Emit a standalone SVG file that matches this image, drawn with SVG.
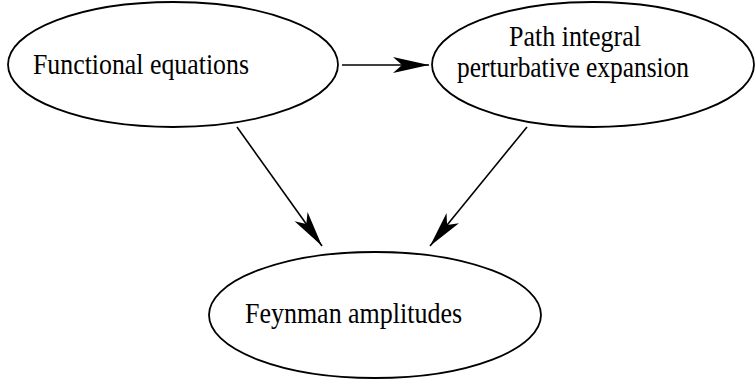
<svg xmlns="http://www.w3.org/2000/svg" width="755" height="383" viewBox="0 0 755 383">
<style>
.node ellipse{fill:#fff;stroke:#000;stroke-width:1.8}
.node text{font-family:"Liberation Serif","Times New Roman",serif;font-size:29px;fill:#000}
.edge{stroke:#000;stroke-width:1.6;fill:none;marker-end:url(#arr)}
</style>
<defs>
<marker id="arr" markerUnits="userSpaceOnUse" viewBox="-37 -9 38 18" refX="0" refY="0" markerWidth="38" markerHeight="18" orient="auto">
<path d="M0,0 L-36,-8 L-27,0 L-36,8 Z" fill="#000"/>
</marker>
</defs>
<g id="n1" class="node">
<ellipse cx="173" cy="64.5" rx="165" ry="62.5"/>
<text x="33" y="74" textLength="216" lengthAdjust="spacingAndGlyphs">Functional equations</text>
</g>
<g id="n2" class="node">
<ellipse cx="593" cy="64.5" rx="161" ry="62.5"/>
<text x="509" y="46" textLength="132" lengthAdjust="spacingAndGlyphs">Path integral</text>
<text x="457" y="77" textLength="232" lengthAdjust="spacingAndGlyphs">perturbative expansion</text>
</g>
<g id="n3" class="node">
<ellipse cx="375" cy="315" rx="166" ry="63"/>
<text x="245" y="323" textLength="217" lengthAdjust="spacingAndGlyphs">Feynman amplitudes</text>
</g>
<g id="edges">
<line class="edge" x1="342" y1="65" x2="429" y2="65"/>
<line class="edge" x1="237" y1="127" x2="322" y2="246"/>
<line class="edge" x1="527" y1="127" x2="430" y2="246"/>
</g>
</svg>
